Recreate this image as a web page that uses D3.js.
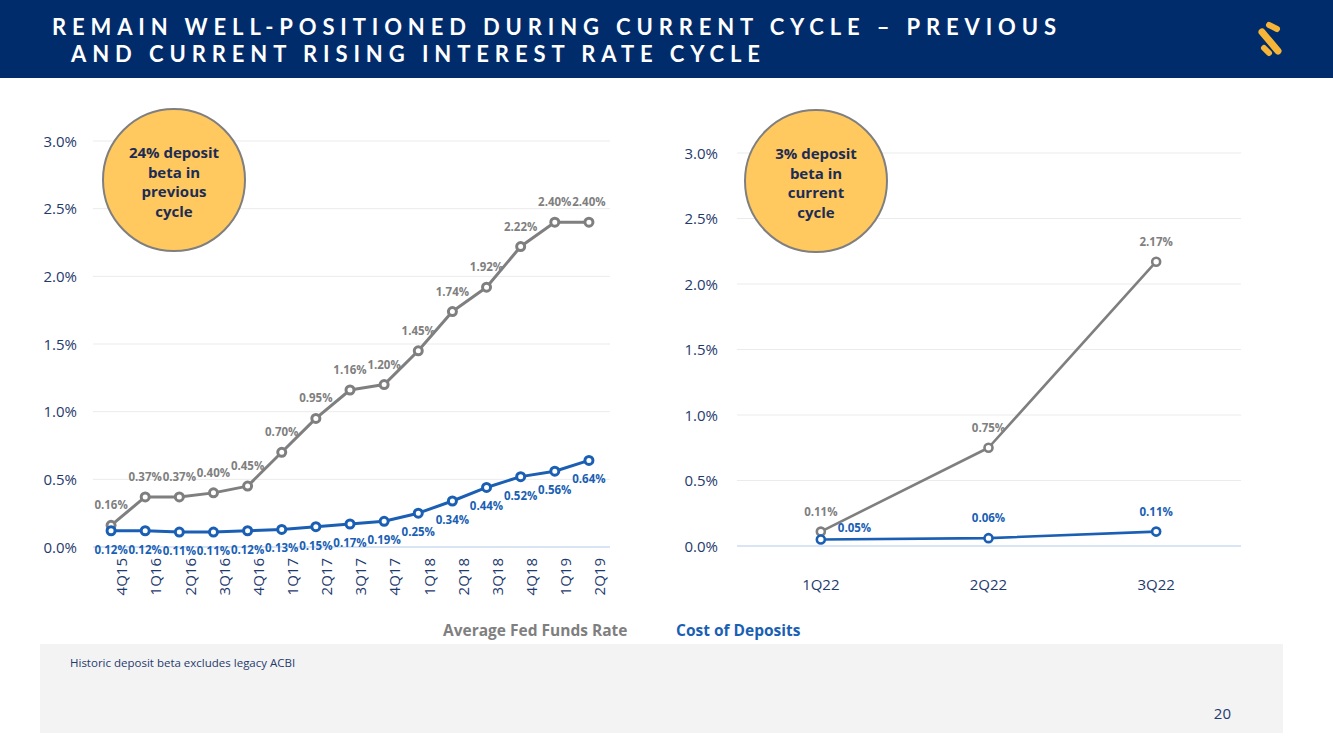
<!DOCTYPE html>
<html>
<head>
<meta charset="utf-8">
<script src="https://cdn.jsdelivr.net/npm/d3@7"></script>
<style>
  body { margin: 0; background: #fff; }
  svg { display: block; font-family: "Open Sans", "Noto Sans", sans-serif; }
</style>
</head>
<body>
<svg id="slide" width="1333" height="749"></svg>
<script>
const titleLines = [
    "REMAIN WELL-POSITIONED DURING CURRENT CYCLE – PREVIOUS",
    "AND CURRENT RISING INTEREST RATE CYCLE"
]

const previousQuarters = ["4Q15", "1Q16", "2Q16", "3Q16", "4Q16", "1Q17", "2Q17", "3Q17", "4Q17", "1Q18", "2Q18", "3Q18", "4Q18", "1Q19", "2Q19"]
const previousFedFunds = [0.16, 0.37, 0.37, 0.40, 0.45, 0.70, 0.95, 1.16, 1.20, 1.45, 1.74, 1.92, 2.22, 2.40, 2.40]
const previousDeposits = [0.12, 0.12, 0.11, 0.11, 0.12, 0.13, 0.15, 0.17, 0.19, 0.25, 0.34, 0.44, 0.52, 0.56, 0.64]

const currentQuarters = ["1Q22", "2Q22", "3Q22"]
const currentFedFunds = [0.11, 0.75, 2.17]
const currentDeposits = [0.05, 0.06, 0.11]

const yTicks = [0, 0.5, 1, 1.5, 2, 2.5, 3]
const seriesNames = ["Average Fed Funds Rate", "Cost of Deposits"]
const previousBubble = ["24% deposit", "beta in", "previous", "cycle"]
const currentBubble = ["3% deposit", "beta in", "current", "cycle"]
const footnote = "Historic deposit beta excludes legacy ACBI"
const pageNumber = "20"

const navy = "#002c6c",
    gray = "#7f7f7f",
    blue = "#1a5fb4",
    axisText = "#1f3a6e";

const svg = d3.select("#slide");

// header bar
svg.append("rect")
    .attr("x", 0).attr("y", 0)
    .attr("width", 1333).attr("height", 78)
    .attr("fill", navy);

const titleWidths = [1004, 689];

const title = svg.append("text")
    .attr("fill", "#fff")
    .style("font-family", "Lato, 'Open Sans', sans-serif")
    .style("font-size", "22px")
    .style("font-weight", 700);

title.selectAll("tspan")
    .data(titleLines)
    .join("tspan")
    .attr("x", (d, i) => i === 0 ? 52 : 71)
    .attr("y", (d, i) => i === 0 ? 35 : 62)
    .text(d => d)
    .each(function(d, i) {
        const natural = this.getComputedTextLength();
        const spacing = (titleWidths[i] - natural) / (d.length - 1);
        d3.select(this).style("letter-spacing", `${spacing}px`);
    });

const logo = svg.append("g").attr("stroke", "#f7b538").attr("stroke-linecap", "round");
logo.append("line").attr("x1", 1269).attr("y1", 25).attr("x2", 1277).attr("y2", 29).attr("stroke-width", 6);
logo.append("line").attr("x1", 1262).attr("y1", 32).attr("x2", 1278).attr("y2", 51).attr("stroke-width", 7);
logo.append("line").attr("x1", 1264).attr("y1", 48).attr("x2", 1269).attr("y2", 53).attr("stroke-width", 6);

const labelOffset = {
    above: { dx: 0, dy: -16, anchor: "middle" },
    below: { dx: 0, dy: 23, anchor: "middle" },
    right: { dx: 17, dy: -7, anchor: "start" }
}

const drawPanel = (opts) => {
    const g = svg.append("g");

    const x = d3.scaleBand()
        .domain(opts.categories)
        .range(opts.xRange);

    const y = d3.scaleLinear()
        .domain([0, 3])
        .range(opts.yRange);

    const cx = (d, i) => x(opts.categories[i]) + x.bandwidth() / 2;

    g.selectAll(".grid")
        .data(yTicks)
        .join("line")
        .attr("x1", opts.gridRange[0])
        .attr("x2", opts.gridRange[1])
        .attr("y1", d => y(d))
        .attr("y2", d => y(d))
        .attr("stroke", d => d === 0 ? "#cddcf0" : "#ebebeb")
        .attr("stroke-width", d => d === 0 ? 1.5 : 1);

    g.append("g")
        .attr("transform", `translate(${opts.yLabelX},0)`)
        .call(d3.axisLeft(y).tickValues(yTicks).tickSize(0).tickPadding(0).tickFormat(d => d3.format(".1f")(d) + "%"))
        .attr("font-family", null)
        .attr("font-size", null)
        .call(a => a.select(".domain").remove())
        .selectAll("text")
        .attr("fill", axisText)
        .attr("dy", "0.35em")
        .style("font-size", "15px");

    const xAxis = g.append("g")
        .attr("transform", `translate(0,${opts.yRange[0]})`)
        .call(d3.axisBottom(x).tickSize(0))
        .attr("font-family", null)
        .attr("font-size", null)
        .call(a => a.select(".domain").remove());

    if (opts.rotate) {
        xAxis.selectAll("text")
            .attr("transform", "rotate(-90)")
            .attr("text-anchor", "end")
            .attr("x", -11)
            .attr("y", 11)
            .attr("dy", "0.35em")
            .attr("fill", axisText)
            .style("font-size", "15px");
    } else {
        xAxis.selectAll("text")
            .attr("y", 39)
            .attr("dy", "0.35em")
            .attr("fill", axisText)
            .style("font-size", "15px");
    }

    const line = d3.line()
        .x(cx)
        .y(d => y(d));

    opts.series.forEach(s => {
        g.append("path")
            .datum(s.values)
            .attr("d", line)
            .attr("fill", "none")
            .attr("stroke", s.color)
            .attr("stroke-width", opts.lineWidth)
            .attr("stroke-linejoin", "round");

        g.selectAll(null)
            .data(s.values)
            .join("circle")
            .attr("cx", cx)
            .attr("cy", d => y(d))
            .attr("r", opts.markerRadius)
            .attr("fill", "#fff")
            .attr("stroke", s.color)
            .attr("stroke-width", opts.lineWidth);

        g.selectAll(null)
            .data(s.values)
            .join("text")
            .attr("x", (d, i) => cx(d, i) + labelOffset[s.placement[i]].dx)
            .attr("y", d => y(d))
            .attr("dy", (d, i) => labelOffset[s.placement[i]].dy)
            .attr("text-anchor", (d, i) => labelOffset[s.placement[i]].anchor)
            .attr("fill", s.color)
            .style("font-size", "11.5px")
            .style("font-weight", 700)
            .text(d => d3.format(".2f")(d) + "%");
    });

    const bubble = g.append("g")
        .attr("transform", `translate(${opts.bubble[0]},${opts.bubble[1]})`);

    bubble.append("circle")
        .attr("r", 71)
        .attr("fill", "#ffc95f")
        .attr("stroke", gray)
        .attr("stroke-width", 2);

    bubble.selectAll("text")
        .data(opts.bubbleText)
        .join("text")
        .attr("y", (d, i) => -22 + i * 19.5)
        .attr("text-anchor", "middle")
        .attr("fill", "#1c2c55")
        .style("font-size", "15px")
        .style("font-weight", 700)
        .text(d => d);
}

drawPanel({
    categories: previousQuarters,
    xRange: [94, 606],
    yRange: [547, 141],
    gridRange: [93, 610],
    yLabelX: 77,
    rotate: true,
    lineWidth: 3,
    markerRadius: 4,
    bubble: [174, 180],
    bubbleText: previousBubble,
    series: [
        { values: previousFedFunds, color: gray, placement: previousFedFunds.map(() => "above") },
        { values: previousDeposits, color: blue, placement: previousDeposits.map(() => "below") }
    ]
});

drawPanel({
    categories: currentQuarters,
    xRange: [737, 1240],
    yRange: [546, 153],
    gridRange: [737, 1241],
    yLabelX: 718,
    rotate: false,
    lineWidth: 2.6,
    markerRadius: 4,
    bubble: [816, 181],
    bubbleText: currentBubble,
    series: [
        { values: currentFedFunds, color: gray, placement: ["above", "above", "above"] },
        { values: currentDeposits, color: blue, placement: ["right", "above", "above"] }
    ]
});

// legend
svg.selectAll(".legend")
    .data(seriesNames)
    .join("text")
    .attr("x", (d, i) => i === 0 ? 443 : 676)
    .attr("y", 636)
    .attr("fill", (d, i) => i === 0 ? gray : blue)
    .style("font-size", "15.5px")
    .style("font-weight", 700)
    .text(d => d);

// footer
svg.append("rect")
    .attr("x", 40).attr("y", 644)
    .attr("width", 1243).attr("height", 89)
    .attr("fill", "#f3f3f3");

svg.append("text")
    .attr("x", 70).attr("y", 667)
    .attr("fill", axisText)
    .style("font-size", "11.5px")
    .text(footnote);

svg.append("text")
    .attr("x", 1231).attr("y", 719)
    .attr("text-anchor", "end")
    .attr("fill", axisText)
    .style("font-size", "15px")
    .text(pageNumber);
</script>
</body>
</html>
